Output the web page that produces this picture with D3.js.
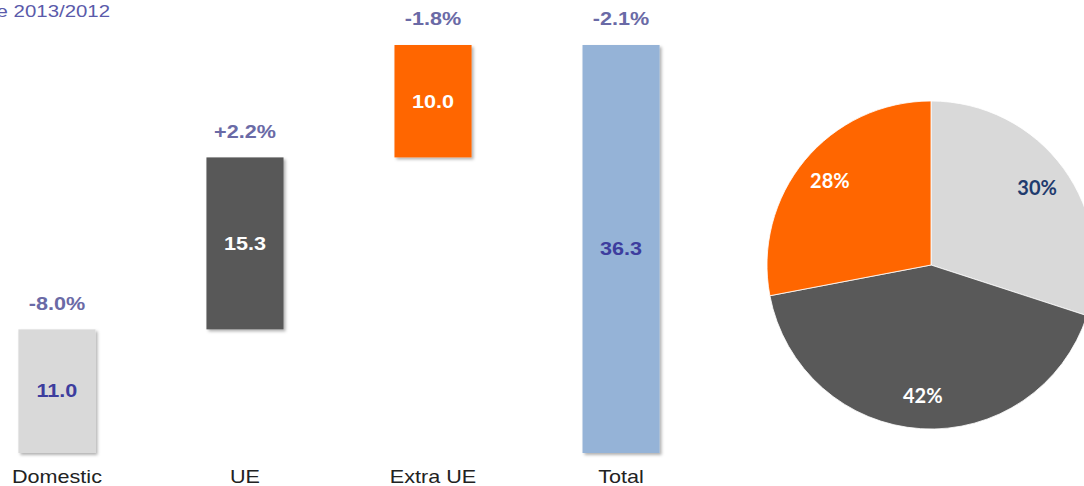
<!DOCTYPE html>
<html>
  <head>
    <title> Export breakdown </title>
    <script src="https://cdn.jsdelivr.net/npm/d3@7"></script>
    <style>
      body { margin: 0; background: white; }
      text { font-family: "Liberation Sans", Arial, sans-serif; }
    </style>
  </head>
  <body>
    <script>
      // values
      var categories = ['Domestic', 'UE', 'Extra UE', 'Total'];
      var values = [11.0, 15.3, 10.0, 36.3];
      var changes = ['-8.0%', '+2.2%', '-1.8%', '-2.1%'];
      var barColors = ['#d9d9d9', '#595959', '#ff6600', '#95b3d7'];
      var valueColors = ['#3d3d9e', '#ffffff', '#ffffff', '#3d3d9e'];

      var pieLabels = ['30%', '42%', '28%'];
      var pieShares = [30, 42, 28];
      var pieColors = ['#d9d9d9', '#595959', '#ff6600'];
      var pieTextColors = ['#1f3b6e', '#ffffff', '#ffffff'];

      // the slide text is stretched sideways a bit
      var sx = 1.2;
      function place(px, py){ return 'translate(' + px + ',' + py + ') scale(' + sx + ',1)'; }

      var svg = d3.select('body').append('svg').attr('width', 1084).attr('height', 486);

      var defs = svg.append('defs');
      var f = defs.append('filter').attr('id', 'shadow').attr('x', '-10%').attr('y', '-10%').attr('width', '130%').attr('height', '130%');
      f.append('feDropShadow').attr('dx', 2).attr('dy', 2).attr('stdDeviation', 1.5).attr('flood-color', '#000').attr('flood-opacity', 0.3);

      svg.append('text').attr('transform', place(110, 17)).attr('text-anchor', 'end')
        .attr('font-size', 17).attr('fill', '#5a5aaa').text('% Change 2013/2012');

      var x = d3.scaleBand().domain(categories).range([-38, 716]).paddingInner(0.59).paddingOuter(0.3);
      var y = d3.scaleLinear().domain([0, 36.3]).range([453, 45]);

      // waterfall: each bar starts where the previous one ended, last is total
      var bars = [];
      var run = 0;
      categories.forEach(function(c, i){
        var last = i === categories.length - 1;
        var lo = last ? 0 : run;
        var hi = last ? values[i] : run + values[i];
        if(!last) run = hi;
        bars.push({cat: c, lo: lo, hi: hi, v: values[i], ch: changes[i], i: i});
      });
      function cx(d){ return x(d.cat) + x.bandwidth() / 2; }

      var g = svg.append('g');
      g.selectAll('rect').data(bars).enter().append('rect')
        .attr('x', function(d){ return x(d.cat); })
        .attr('width', x.bandwidth())
        .attr('y', function(d){ return y(d.hi); })
        .attr('height', function(d){ return y(d.lo) - y(d.hi); })
        .attr('fill', function(d){ return barColors[d.i]; })
        .attr('filter', 'url(#shadow)');

      g.selectAll('.val').data(bars).enter().append('text').attr('class', 'val')
        .attr('transform', function(d){ return place(cx(d), (y(d.lo) + y(d.hi)) / 2); })
        .attr('dy', '0.35em').attr('text-anchor', 'middle')
        .attr('font-size', 18).attr('font-weight', 'bold')
        .attr('fill', function(d){ return valueColors[d.i]; })
        .text(function(d){ return d.v.toFixed(1); });

      g.selectAll('.chg').data(bars).enter().append('text').attr('class', 'chg')
        .attr('transform', function(d){ return place(cx(d), y(d.hi) - 26); })
        .attr('dy', '0.35em').attr('text-anchor', 'middle')
        .attr('font-size', 18).attr('font-weight', 'bold').attr('fill', '#6a6aa6')
        .text(function(d){ return d.ch; });

      g.selectAll('.cat').data(bars).enter().append('text').attr('class', 'cat')
        .attr('transform', function(d){ return place(cx(d), 477); })
        .attr('dy', '0.35em').attr('text-anchor', 'middle')
        .attr('font-size', 18).attr('fill', '#222')
        .text(function(d){ return d.cat; });

      // pie
      var pie = d3.pie().sort(null).value(function(d){ return d; });
      var arcs = pie(pieShares);
      var r = 164;
      var arc = d3.arc().innerRadius(0).outerRadius(r);
      var lab = d3.arc().innerRadius(r * 0.8).outerRadius(r * 0.8);
      var pg = svg.append('g').attr('transform', 'translate(931,265)');
      pg.selectAll('path').data(arcs).enter().append('path')
        .attr('d', arc).attr('fill', function(d, i){ return pieColors[i]; })
        .attr('stroke', '#fff').attr('stroke-width', 0.8);
      pg.selectAll('text').data(arcs).enter().append('text')
        .attr('transform', function(d){ return 'translate(' + lab.centroid(d) + ')'; })
        .attr('dy', '0.35em').attr('text-anchor', 'middle')
        .style('font-family', 'Lato, "Open Sans", sans-serif')
        .attr('font-size', 20).attr('font-weight', 'bold')
        .attr('fill', function(d, i){ return pieTextColors[i]; })
        .text(function(d, i){ return pieLabels[i]; });
    </script>
  </body>
</html>
